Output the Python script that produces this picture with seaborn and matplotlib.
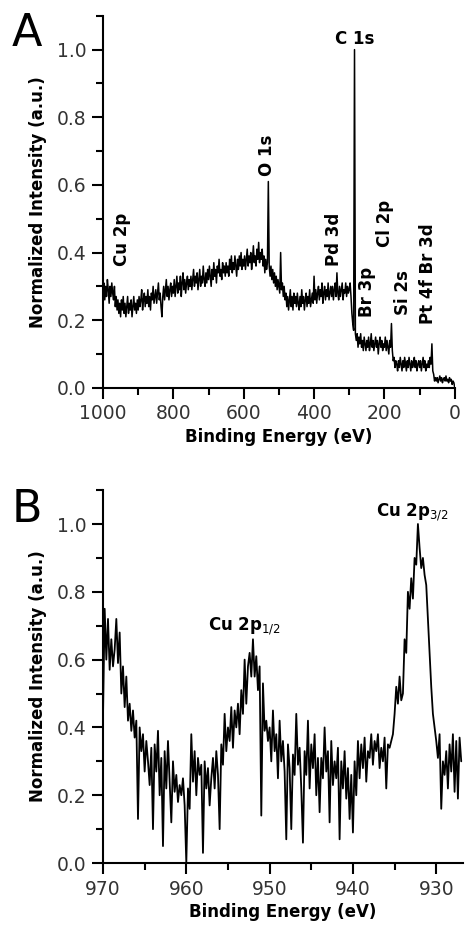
import numpy as np
import pandas as pd
import matplotlib
matplotlib.use('Agg')
import matplotlib.pyplot as plt
from matplotlib.ticker import MultipleLocator
import seaborn as sns

# Survey spectrum, 1000 -> 0 eV, 2.5 eV steps
survey_energy = np.linspace(1000, 0, 401)
survey_intensity = [
    0.28, 0.31, 0.26, 0.30, 0.27, 0.32, 0.29, 0.25, 0.30, 0.27, 0.31, 0.28, 0.26, 0.30, 0.24, 0.27, 0.23, 0.26, 0.22, 0.25,
    0.21, 0.26, 0.23, 0.27, 0.22, 0.25, 0.21, 0.24, 0.27, 0.22, 0.25, 0.23, 0.26, 0.21, 0.24, 0.27, 0.23, 0.25, 0.22, 0.26,
    0.23, 0.27, 0.24, 0.26, 0.29, 0.23, 0.26, 0.28, 0.24, 0.27, 0.25, 0.29, 0.24, 0.27, 0.23, 0.28, 0.26, 0.30, 0.25, 0.27,
    0.29, 0.25, 0.28, 0.31, 0.26, 0.28, 0.24, 0.21, 0.27, 0.30, 0.26, 0.29, 0.32, 0.27, 0.30, 0.26, 0.29, 0.31, 0.27, 0.30,
    0.28, 0.32, 0.27, 0.30, 0.33, 0.28, 0.31, 0.29, 0.33, 0.27, 0.31, 0.34, 0.29, 0.32, 0.28, 0.31, 0.33, 0.29, 0.32, 0.30,
    0.33, 0.29, 0.32, 0.35, 0.30, 0.33, 0.31, 0.34, 0.29, 0.32, 0.35, 0.30, 0.33, 0.31, 0.36, 0.32, 0.30, 0.34, 0.31, 0.35,
    0.32, 0.36, 0.33, 0.30, 0.35, 0.32, 0.37, 0.33, 0.35, 0.31, 0.36, 0.34, 0.38, 0.33, 0.35, 0.32, 0.37, 0.34, 0.36, 0.33,
    0.37, 0.34, 0.36, 0.33, 0.38, 0.35, 0.39, 0.34, 0.37, 0.35, 0.39, 0.36, 0.33, 0.38, 0.35, 0.39, 0.36, 0.40, 0.35, 0.38,
    0.36, 0.39, 0.35, 0.38, 0.41, 0.36, 0.39, 0.37, 0.40, 0.35, 0.38, 0.42, 0.37, 0.39, 0.36, 0.41, 0.38, 0.43, 0.37, 0.40,
    0.38, 0.41, 0.36, 0.39, 0.34, 0.38, 0.35, 0.37, 0.61, 0.36, 0.33, 0.36, 0.32, 0.35, 0.31, 0.34, 0.30, 0.33, 0.29, 0.32,
    0.30, 0.28, 0.40, 0.29, 0.31, 0.27, 0.30, 0.26, 0.28, 0.24, 0.27, 0.23, 0.26, 0.29, 0.24, 0.27, 0.23, 0.28, 0.25, 0.27,
    0.24, 0.28, 0.25, 0.23, 0.27, 0.24, 0.29, 0.25, 0.27, 0.23, 0.26, 0.28, 0.24, 0.27, 0.25, 0.29, 0.24, 0.26, 0.28, 0.25,
    0.33, 0.26, 0.29, 0.25, 0.28, 0.30, 0.26, 0.29, 0.27, 0.31, 0.25, 0.28, 0.30, 0.26, 0.29, 0.27, 0.31, 0.26, 0.28, 0.30,
    0.27, 0.30, 0.26, 0.29, 0.31, 0.27, 0.34, 0.28, 0.26, 0.30, 0.27, 0.29, 0.31, 0.26, 0.29, 0.28, 0.31, 0.27, 0.30, 0.28,
    0.29, 0.31, 0.27, 0.22, 0.19, 0.17, 1.00, 0.16, 0.14, 0.16, 0.12, 0.15, 0.13, 0.16, 0.12, 0.14, 0.11, 0.15, 0.13, 0.11,
    0.14, 0.12, 0.15, 0.11, 0.13, 0.16, 0.12, 0.14, 0.11, 0.13, 0.15, 0.12, 0.14, 0.10, 0.13, 0.15, 0.12, 0.14, 0.11, 0.13,
    0.12, 0.15, 0.11, 0.14, 0.12, 0.10, 0.14, 0.12, 0.19, 0.11, 0.08, 0.09, 0.06, 0.08, 0.07, 0.05, 0.08, 0.06, 0.09, 0.07,
    0.05, 0.08, 0.06, 0.09, 0.07, 0.05, 0.08, 0.06, 0.09, 0.07, 0.05, 0.08, 0.06, 0.07, 0.09, 0.06, 0.08, 0.05, 0.07, 0.08,
    0.06, 0.08, 0.05, 0.07, 0.09, 0.06, 0.08, 0.05, 0.07, 0.06, 0.08, 0.06, 0.09, 0.07, 0.13, 0.05, 0.04, 0.02, 0.03, 0.02,
    0.03, 0.015, 0.025, 0.035, 0.02, 0.03, 0.015, 0.025, 0.03, 0.02, 0.035, 0.02, 0.025, 0.015, 0.03, 0.02, 0.025, 0.01, 0.02, 0.015,
    0.00,
]

# Cu 2p region, 970 -> 927 eV, 0.2 eV steps
cu_energy = np.linspace(970, 927, 216)
cu_intensity = [
    0.43, 0.75, 0.60, 0.72, 0.57, 0.66, 0.58, 0.63, 0.72, 0.59,
    0.68, 0.50, 0.58, 0.46, 0.55, 0.42, 0.47, 0.39, 0.45, 0.37,
    0.42, 0.13, 0.40, 0.33, 0.38, 0.27, 0.36, 0.30, 0.23, 0.34,
    0.10, 0.35, 0.27, 0.39, 0.20, 0.31, 0.05, 0.33, 0.22, 0.36,
    0.24, 0.12, 0.30, 0.21, 0.26, 0.18, 0.23, 0.20, 0.25, 0.17,
    0.00, 0.22, 0.16, 0.38, 0.24, 0.33, 0.20, 0.31, 0.26, 0.29,
    0.03, 0.30, 0.22, 0.28, 0.17, 0.25, 0.31, 0.22, 0.33, 0.26,
    0.10, 0.35, 0.29, 0.44, 0.33, 0.40, 0.36, 0.46, 0.34, 0.45,
    0.40, 0.47, 0.38, 0.51, 0.44, 0.60, 0.47, 0.58, 0.62, 0.55,
    0.66, 0.55, 0.61, 0.51, 0.58, 0.14, 0.53, 0.39, 0.42, 0.36,
    0.40, 0.30, 0.45, 0.33, 0.38, 0.25, 0.42, 0.30, 0.36, 0.27,
    0.07, 0.35, 0.28, 0.10, 0.32, 0.26, 0.44, 0.29, 0.34, 0.22,
    0.06, 0.33, 0.26, 0.42, 0.22, 0.35, 0.28, 0.38, 0.20, 0.31,
    0.15, 0.31, 0.25, 0.40, 0.27, 0.33, 0.12, 0.36, 0.23, 0.30,
    0.25, 0.34, 0.07, 0.30, 0.22, 0.33, 0.19, 0.28, 0.13, 0.26,
    0.09, 0.30, 0.20, 0.36, 0.25, 0.35, 0.28, 0.37, 0.24, 0.33,
    0.31, 0.38, 0.29, 0.36, 0.33, 0.38, 0.28, 0.34, 0.30, 0.37,
    0.22, 0.35, 0.34, 0.36, 0.38, 0.44, 0.52, 0.47, 0.55, 0.48,
    0.50, 0.66, 0.62, 0.80, 0.75, 0.84, 0.78, 0.90, 0.88, 1.00,
    0.93, 0.87, 0.90, 0.85, 0.82, 0.72, 0.62, 0.52, 0.44, 0.40,
    0.36, 0.31, 0.38, 0.16, 0.30, 0.26, 0.33, 0.22, 0.35, 0.27,
    0.38, 0.21, 0.36, 0.19, 0.37, 0.30,
]

survey = pd.DataFrame({'energy': survey_energy, 'intensity': survey_intensity})
cu = pd.DataFrame({'energy': cu_energy, 'intensity': cu_intensity})

sns.set_style('ticks')
plt.rcParams['font.family'] = ['DejaVu Sans']
plt.rcParams['axes.linewidth'] = 1.5
plt.rcParams['text.color'] = 'black'
plt.rcParams['axes.labelcolor'] = 'black'

fig = plt.figure(figsize=(4.65, 9.3), dpi=100)
ax1 = fig.add_axes([0.2215, 0.583, 0.7565, 0.400])
ax2 = fig.add_axes([0.2215, 0.072, 0.774, 0.401])

sns.lineplot(data=survey, x='energy', y='intensity', ax=ax1, color='black',
             linewidth=1.1, estimator=None, sort=False)
sns.lineplot(data=cu, x='energy', y='intensity', ax=ax2, color='black',
             linewidth=1.3, estimator=None, sort=False)

ax1.set_xlim(1000, 0)
ax2.set_xlim(970, 926.8)
for ax in (ax1, ax2):
    ax.set_ylim(0, 1.1)
    sns.despine(ax=ax)
    ax.yaxis.set_major_locator(MultipleLocator(0.2))
    ax.yaxis.set_minor_locator(MultipleLocator(0.1))
    ax.tick_params(which='major', direction='out', length=8, width=1.5,
                   labelsize=13.5, labelcolor='#333333', pad=4, color='black')
    ax.tick_params(which='minor', direction='out', length=5, width=1.5, color='black')
    ax.set_xlabel('Binding Energy (eV)', fontsize=12, fontweight='bold', labelpad=3)
    ax.set_ylabel('Normalized Intensity (a.u.)', fontsize=12, fontweight='bold', labelpad=7)
    for s in ax.spines.values():
        s.set_color('black')
ax1.xaxis.set_major_locator(MultipleLocator(200))
ax1.xaxis.set_minor_locator(MultipleLocator(100))
ax2.xaxis.set_major_locator(MultipleLocator(10))
ax2.xaxis.set_minor_locator(MultipleLocator(5))

lab = dict(fontsize=12, fontweight='bold', ha='center', color='black')
ax1.text(284, 1.03, 'C 1s', va='center', **lab)
for name, x, y in [('Cu 2p', 946, 0.36), ('O 1s', 534, 0.625), ('Pd 3d', 344, 0.36),
                   ('Br 3p', 250, 0.21), ('Cl 2p', 199, 0.415), ('Si 2s', 148, 0.215),
                   ('Pt 4f Br 3d', 77, 0.19)]:
    ax1.text(x, y, name, rotation=90, va='bottom', **lab)

ax2.text(932.9, 1.035, 'Cu 2p$_{3/2}$', va='center', **lab)
ax2.text(953, 0.70, 'Cu 2p$_{1/2}$', va='center', **lab)

fig.text(12 / 465, 1 - 46 / 930, 'A', fontsize=32, ha='left', va='baseline', color='black')
fig.text(12 / 465, 1 - 522 / 930, 'B', fontsize=32, ha='left', va='baseline', color='black')

fig.savefig('out.png', dpi=100)
